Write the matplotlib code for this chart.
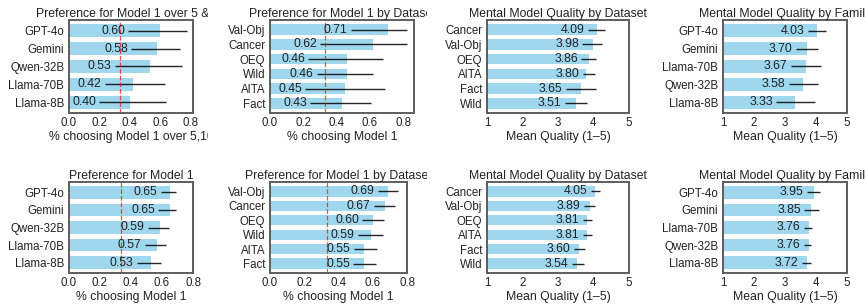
import matplotlib
matplotlib.use("Agg")
import matplotlib.pyplot as plt
from matplotlib.transforms import Bbox, TransformedBbox
import numpy as np

plt.rcParams['font.family'] = ['Liberation Sans', 'DejaVu Sans']

# ---- data ----
models_top = ["GPT-4o", "Gemini", "Qwen-32B", "Llama-70B", "Llama-8B"]
pref_model_top = [0.60, 0.58, 0.53, 0.42, 0.40]
pref_model_top_lo = [0.39, 0.41, 0.30, 0.235, 0.20]
pref_model_top_hi = [0.776, 0.73, 0.745, 0.634, 0.636]

datasets_pref_top = ["Val-Obj", "Cancer", "OEQ", "Wild", "AITA", "Fact"]
pref_data_top = [0.71, 0.62, 0.46, 0.46, 0.45, 0.43]
pref_data_top_lo = [0.484, 0.302, 0.231, 0.283, 0.213, 0.243]
pref_data_top_hi = [0.824, 0.824, 0.678, 0.619, 0.69, 0.609]

datasets_qual_top = ["Cancer", "Val-Obj", "OEQ", "AITA", "Fact", "Wild"]
qual_data_top = [4.09, 3.98, 3.86, 3.80, 3.65, 3.51]
qual_data_top_lo = [3.85, 3.69, 3.66, 3.70, 3.23, 3.19]
qual_data_top_hi = [4.31, 4.25, 4.08, 4.03, 4.08, 3.83]

models_qual_top = ["GPT-4o", "Gemini", "Llama-70B", "Qwen-32B", "Llama-8B"]
qual_model_top = [4.03, 3.70, 3.67, 3.58, 3.33]
qual_model_top_lo = [3.73, 3.35, 3.19, 3.12, 2.72]
qual_model_top_hi = [4.32, 4.06, 4.17, 4.06, 3.98]

models_bot = ["GPT-4o", "Gemini", "Qwen-32B", "Llama-70B", "Llama-8B"]
pref_model_bot = [0.65, 0.65, 0.59, 0.57, 0.53]
pref_model_bot_lo = [0.593, 0.576, 0.51, 0.488, 0.437]
pref_model_bot_hi = [0.69, 0.69, 0.648, 0.624, 0.593]

datasets_pref_bot = ["Val-Obj", "Cancer", "OEQ", "Wild", "AITA", "Fact"]
pref_data_bot = [0.69, 0.67, 0.60, 0.59, 0.55, 0.55]
pref_data_bot_lo = [0.63, 0.607, 0.54, 0.514, 0.491, 0.487]
pref_data_bot_hi = [0.746, 0.728, 0.665, 0.661, 0.622, 0.62]

datasets_qual_bot = ["Cancer", "Val-Obj", "OEQ", "AITA", "Fact", "Wild"]
qual_data_bot = [4.05, 3.89, 3.81, 3.81, 3.60, 3.54]
qual_data_bot_lo = [3.94, 3.72, 3.70, 3.70, 3.45, 3.39]
qual_data_bot_hi = [4.19, 4.03, 3.95, 3.95, 3.77, 3.72]

models_qual_bot = ["GPT-4o", "Gemini", "Llama-70B", "Qwen-32B", "Llama-8B"]
qual_model_bot = [3.95, 3.85, 3.76, 3.76, 3.72]
qual_model_bot_lo = [3.71, 3.62, 3.60, 3.60, 3.55]
qual_model_bot_hi = [4.14, 4.09, 3.87, 3.85, 3.85]

W, H = 865, 305
fig = plt.figure(figsize=(W / 100, H / 100), dpi=100)


def px_axes(x0, y0, x1, y1):
    return fig.add_axes([x0 / W, 1 - y1 / H, (x1 - x0) / W, (y1 - y0) / H])


def clip_to(artist, x0, x1):
    # each panel was a separate image in the original, so long titles get cut at the column edge
    box = TransformedBbox(Bbox([[x0 / W, 0], [x1 / W, 1]]), fig.transFigure)
    artist.set_clip_box(box)
    artist.set_clip_on(True)


def bar_panel(ax, labels, vals, lo, hi, title, xlabel, kind, col):
    y = np.arange(len(labels))
    ax.barh(y, vals, height=0.72, color="skyblue", alpha=0.8, zorder=1)
    ax.hlines(y, lo, hi, color="black", lw=1.0, alpha=0.85, zorder=2)
    for yi, v, l in zip(y, vals, lo):
        ax.annotate(f"{v:.2f}", (l, yi), xytext=(-2.5, 0), textcoords="offset points",
                    ha="right", va="center", fontsize=8.8, color="#222222", zorder=3)
    if kind == "pref":
        ax.axvline(1 / 3, color="red", ls="--", lw=0.9, alpha=0.7, zorder=2)
        ax.set_xlim(0, max(0.8, max(hi) * 1.05))
        ax.set_xticks([0.0, 0.2, 0.4, 0.6, 0.8])
    else:
        ax.set_xlim(1, 5)
        ax.set_xticks([1, 2, 3, 4, 5])
    ax.set_yticks(y)
    ax.set_yticklabels(labels)
    ax.invert_yaxis()
    ax.tick_params(axis="y", length=0, labelsize=8.3, pad=3.5, colors="#222222")
    ax.tick_params(axis="x", length=0, labelsize=8.3, pad=3, colors="#222222")
    for s in ax.spines.values():
        s.set_color("#5e5e5e")
        s.set_linewidth(1.4)
    t = ax.set_title(title, fontsize=8.8, pad=2.5, color="#222222")
    xl = ax.set_xlabel(xlabel, fontsize=8.8, labelpad=1.5, color="#222222")
    clip_to(t, col[0], col[1])
    clip_to(xl, col[0], col[1])


cols = [(0, 208), (212, 427), (430, 649), (650, 865)]
top = (20, 113)
bot = (182, 273)

ax = px_axes(69, top[0], 193, top[1])
bar_panel(ax, models_top, pref_model_top, pref_model_top_lo, pref_model_top_hi,
          "Preference for Model 1 over 5 & 10", "% choosing Model 1 over 5,10", "pref", cols[0])
ax = px_axes(270, top[0], 414, top[1])
bar_panel(ax, datasets_pref_top, pref_data_top, pref_data_top_lo, pref_data_top_hi,
          "Preference for Model 1 by Dataset", "% choosing Model 1", "pref", cols[1])
ax = px_axes(487, top[0], 629, top[1])
bar_panel(ax, datasets_qual_top, qual_data_top, qual_data_top_lo, qual_data_top_hi,
          "Mental Model Quality by Dataset", "Mean Quality (1\u20135)", "qual", cols[2])
ax = px_axes(723, top[0], 847, top[1])
bar_panel(ax, models_qual_top, qual_model_top, qual_model_top_lo, qual_model_top_hi,
          "Mental Model Quality by Family", "Mean Quality (1\u20135)", "qual", cols[3])

ax = px_axes(69, bot[0], 193, bot[1])
bar_panel(ax, models_bot, pref_model_bot, pref_model_bot_lo, pref_model_bot_hi,
          "Preference for Model 1", "% choosing Model 1", "pref", cols[0])
ax = px_axes(270, bot[0], 407, bot[1])
bar_panel(ax, datasets_pref_bot, pref_data_bot, pref_data_bot_lo, pref_data_bot_hi,
          "Preference for Model 1 by Dataset", "% choosing Model 1", "pref", cols[1])
ax = px_axes(487, bot[0], 629, bot[1])
bar_panel(ax, datasets_qual_bot, qual_data_bot, qual_data_bot_lo, qual_data_bot_hi,
          "Mental Model Quality by Dataset", "Mean Quality (1\u20135)", "qual", cols[2])
ax = px_axes(723, bot[0], 847, bot[1])
bar_panel(ax, models_qual_bot, qual_model_bot, qual_model_bot_lo, qual_model_bot_hi,
          "Mental Model Quality by Family", "Mean Quality (1\u20135)", "qual", cols[3])

fig.savefig("out.png", dpi=100)
